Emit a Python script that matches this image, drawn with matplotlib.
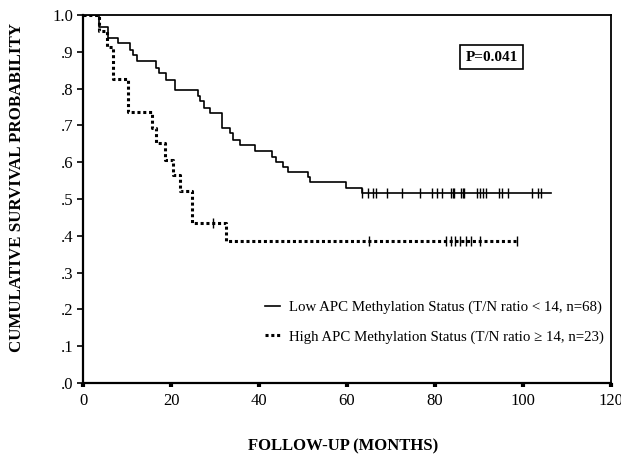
import matplotlib
matplotlib.use('Agg')
import matplotlib.pyplot as plt
from matplotlib.lines import Line2D

plt.rcParams['font.family'] = ['Liberation Serif', 'DejaVu Serif']

# Kaplan-Meier step data (months, survival)
low_times = [0, 3.7, 5.6, 8.0, 10.7, 11.4, 12.3, 16.6, 17.3, 18.9, 20.9, 26.2, 26.6,
             27.5, 28.9, 31.5, 33.4, 34.0, 35.7, 39.1, 42.9, 43.9, 45.4, 46.7, 51.2,
             51.6, 59.8, 63.5]
low_surv = [1.0, 0.968, 0.938, 0.923, 0.905, 0.89, 0.876, 0.857, 0.842, 0.823, 0.796,
            0.78, 0.765, 0.746, 0.733, 0.692, 0.678, 0.66, 0.647, 0.631, 0.615, 0.601,
            0.586, 0.574, 0.561, 0.547, 0.529, 0.515]
low_end = 106.3
low_censor = [63.4, 64.8, 66.0, 66.6, 69.0, 72.4, 76.7, 79.3, 80.5, 81.7, 83.6, 84.0,
              84.3, 85.9, 86.3, 86.7, 89.5, 90.2, 90.8, 91.7, 94.6, 95.2, 96.7, 102.0,
              103.3, 104.0]

high_times = [0, 3.7, 5.5, 6.9, 10.2, 15.7, 16.6, 18.7, 20.4, 22.0, 24.7, 32.5]
high_surv = [1.0, 0.957, 0.913, 0.826, 0.737, 0.692, 0.651, 0.606, 0.565, 0.522,
             0.436, 0.387]
high_end = 98.6
high_censor = [29.6, 65.0, 82.4, 83.6, 84.5, 85.7, 87.0, 88.2, 90.2, 98.6]

ytick_vals = [0.0, 0.1, 0.2, 0.3, 0.4, 0.5, 0.6, 0.7, 0.8, 0.9, 1.0]
ytick_labels = ['.0', '.1', '.2', '.3', '.4', '.5', '.6', '.7', '.8', '.9', '1.0']
xtick_vals = [0, 20, 40, 60, 80, 100, 120]

low_label = 'Low APC Methylation Status (T/N ratio < 14, n=68)'
high_label = 'High APC Methylation Status (T/N ratio \u2265 14, n=23)'

fig = plt.figure(figsize=(6.21, 4.54), dpi=100)
ax = fig.add_axes([0.1337, 0.1564, 0.8502, 0.8106])

low_style = dict(color='black', lw=1.2, linestyle='-')
high_style = dict(color='black', lw=2.2, linestyle=(0, (1, 0.9)))

ax.step(low_times + [low_end], low_surv + [low_surv[-1]], where='post', **low_style)
ax.step(high_times + [high_end], high_surv + [high_surv[-1]], where='post', **high_style)

# censored observations
ax.plot(low_censor, [low_surv[-1]] * len(low_censor), linestyle='none',
        marker='|', ms=7, mew=1.0, color='black')
ax.plot(high_censor, [0.387 if t > 32.5 else 0.436 for t in high_censor],
        linestyle='none', marker='|', ms=7, mew=1.0, color='black')

ax.set_xlim(0, 120)
ax.set_ylim(0, 1.0)
ax.set_xticks(xtick_vals)
ax.set_yticks(ytick_vals)
ax.set_yticklabels(ytick_labels)
ax.tick_params(axis='y', direction='out', length=4, width=1.2, labelsize=12, pad=3)
ax.tick_params(axis='x', direction='out', length=3, width=3, labelsize=12, pad=4)
for side in ['left', 'bottom', 'right', 'top']:
    ax.spines[side].set_linewidth(1.3)
ax.spines['left'].set_linewidth(1.6)
ax.spines['bottom'].set_linewidth(1.6)

fig.text(17 / 621, 1 - 188 / 454, 'CUMULATIVE SURVIVAL PROBABILITY', rotation=90,
         ha='center', va='center', fontsize=12.2, fontweight='bold')
ax.set_xlabel('FOLLOW-UP (MONTHS)', fontsize=12, fontweight='bold')
ax.xaxis.set_label_coords(0.492, -0.15)

ax.text(92.9, 0.885, 'P=0.041', fontsize=11, fontweight='bold', ha='center', va='center',
        bbox=dict(boxstyle='square,pad=0.35', fc='white', ec='black', lw=1.2))

handles = [Line2D([], [], **low_style), Line2D([], [], **high_style)]
ax.legend(handles, [low_label, high_label], loc='center right',
          bbox_to_anchor=(0.987, 0.165), frameon=False, fontsize=10.7,
          handlelength=1.0, handletextpad=0.6, labelspacing=1.05,
          borderpad=0, borderaxespad=0)

fig.savefig('out.png', dpi=100)
